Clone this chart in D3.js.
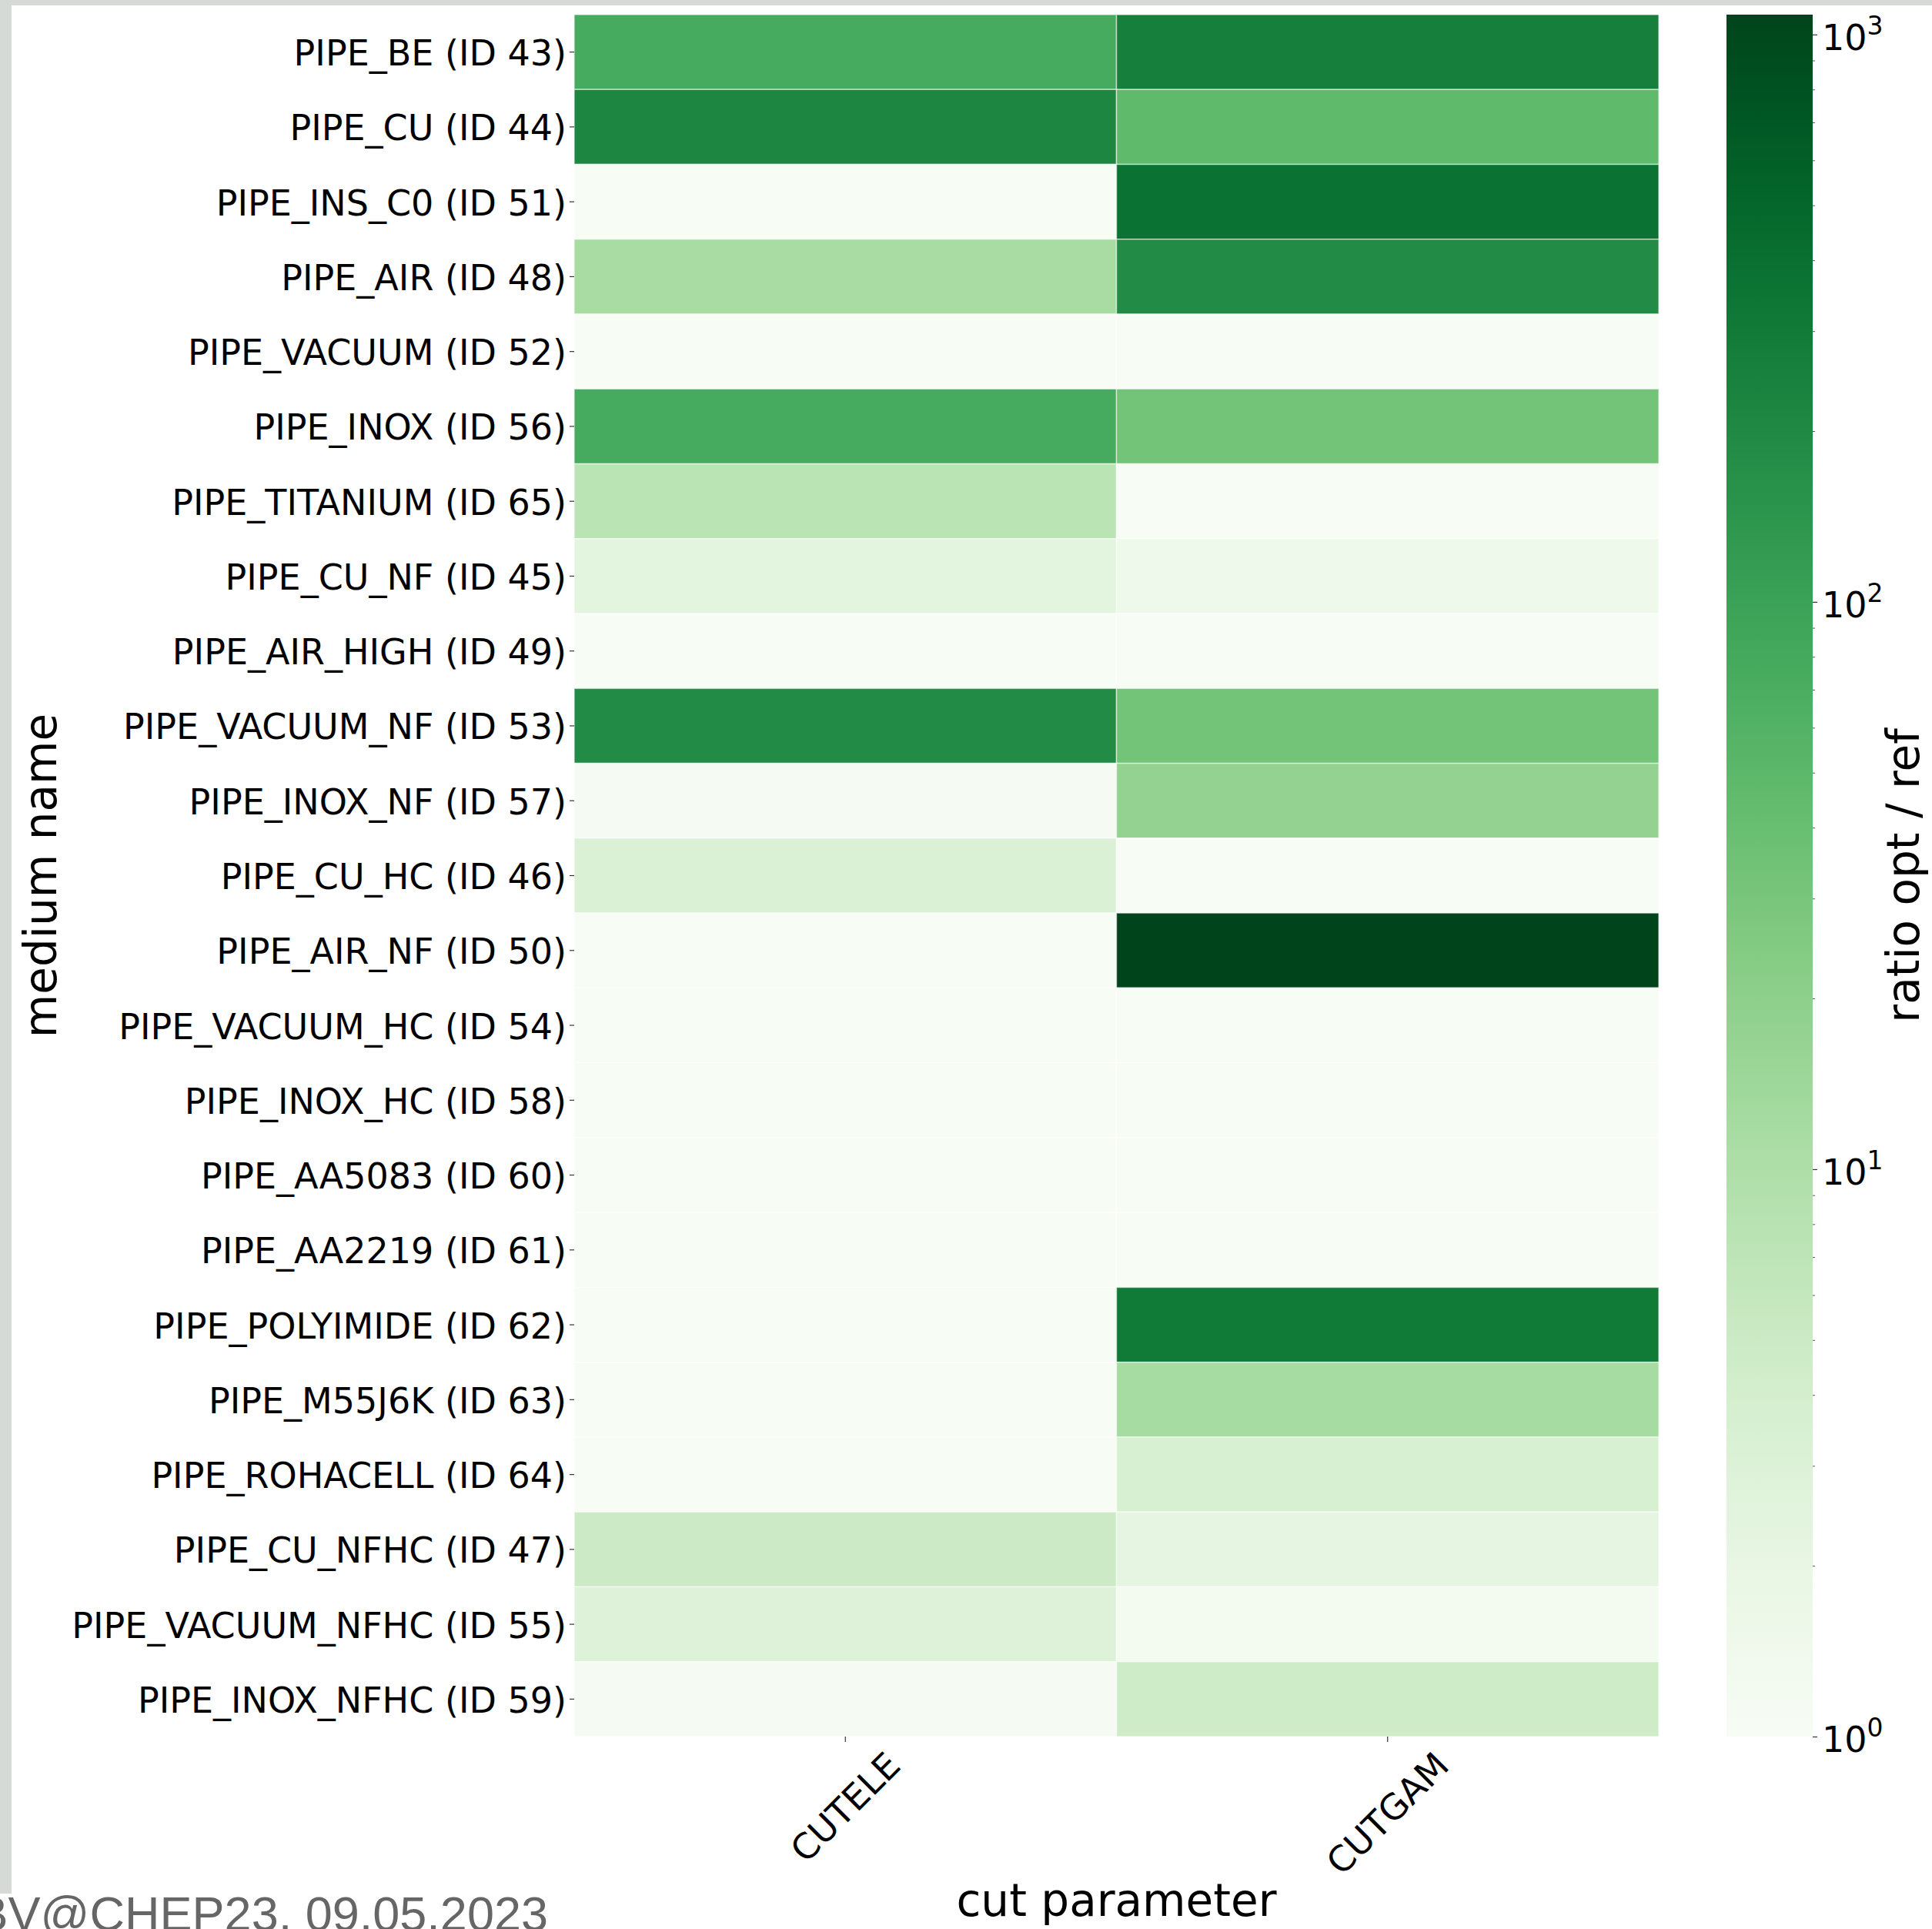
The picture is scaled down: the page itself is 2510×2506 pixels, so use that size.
<!DOCTYPE html>
<html>
<head>
<meta charset="utf-8">
<script src="https://cdn.jsdelivr.net/npm/d3@7"></script>
<style>
body { margin: 0; background: #fff; }
svg { display: block; }
</style>
</head>
<body>
<div id="chart"></div>
<script>
// media shown on the y axis, top to bottom
const media = [
  "PIPE_BE (ID 43)", "PIPE_CU (ID 44)", "PIPE_INS_C0 (ID 51)", "PIPE_AIR (ID 48)",
  "PIPE_VACUUM (ID 52)", "PIPE_INOX (ID 56)", "PIPE_TITANIUM (ID 65)", "PIPE_CU_NF (ID 45)",
  "PIPE_AIR_HIGH (ID 49)", "PIPE_VACUUM_NF (ID 53)", "PIPE_INOX_NF (ID 57)", "PIPE_CU_HC (ID 46)",
  "PIPE_AIR_NF (ID 50)", "PIPE_VACUUM_HC (ID 54)", "PIPE_INOX_HC (ID 58)", "PIPE_AA5083 (ID 60)",
  "PIPE_AA2219 (ID 61)", "PIPE_POLYIMIDE (ID 62)", "PIPE_M55J6K (ID 63)", "PIPE_ROHACELL (ID 64)",
  "PIPE_CU_NFHC (ID 47)", "PIPE_VACUUM_NFHC (ID 55)", "PIPE_INOX_NFHC (ID 59)"
];
const cuts = ["CUTELE", "CUTGAM"];

// ratio opt / ref
const cutele = [76, 218, 1, 11.5, 1, 76, 7.6, 2.3, 1, 190, 1.1, 3.1, 1, 1, 1, 1, 1, 1, 1, 1, 5, 2.9, 1.1];
const cutgam = [270, 47, 380, 190, 1, 33, 1, 1.5, 1, 33, 18, 1, 1084, 1, 1, 1, 1, 310, 12, 3.5, 2.2, 1.2, 4.6];

const cbMajor = [1, 10, 100, 1000];
const vmin = 1, vmax = 1084;

const width = 2510, height = 2506;
const mLeft = 746, mRight = 2155, mTop = 19, mBottom = 2256;
const cbLeft = 2243, cbRight = 2355;

let svg = d3.select("#chart").append("svg")
  .attr("width", width)
  .attr("height", height)
  .style("font-family", "'DejaVu Sans', sans-serif");

// slide background bits
svg.append("rect").attr("x", 0).attr("y", 0).attr("width", width).attr("height", 7).attr("fill", "#d5dad6");
svg.append("rect").attr("x", 0).attr("y", 0).attr("width", 15).attr("height", 2460).attr("fill", "#d5dad6");

let x = d3.scaleBand().domain(cuts).range([mLeft, mRight]);
let y = d3.scaleBand().domain(media).range([mTop, mBottom]);
let color = d3.scaleSequentialLog(d3.interpolateGreens).domain([vmin, vmax]);

let cells = [];
media.forEach((m, i) => {
  cells.push({ m: m, c: "CUTELE", v: cutele[i] });
  cells.push({ m: m, c: "CUTGAM", v: cutgam[i] });
});

svg.append("g").selectAll("rect")
  .data(cells)
  .enter().append("rect")
  .attr("x", d => x(d.c))
  .attr("y", d => y(d.m))
  .attr("width", x.bandwidth())
  .attr("height", y.bandwidth())
  .attr("fill", d => color(d.v))
  .attr("stroke", "rgba(255,255,255,0.55)")
  .attr("stroke-width", 1.5);

// y axis
let yAxis = svg.append("g")
  .attr("transform", `translate(${mLeft},0)`)
  .call(d3.axisLeft(y).tickSize(6).tickPadding(4));
yAxis.select(".domain").remove();
yAxis.selectAll(".tick line").attr("stroke", "#333").attr("stroke-width", 1.2);
yAxis.selectAll(".tick text").attr("font-size", 46).attr("fill", "#000").attr("dy", "0.38em")
  .attr("font-family", "'DejaVu Sans', sans-serif");

// x axis
let xAxis = svg.append("g")
  .attr("transform", `translate(0,${mBottom})`)
  .call(d3.axisBottom(x).tickSize(7).tickFormat(""));
xAxis.select(".domain").remove();
xAxis.selectAll(".tick line").attr("stroke", "#333").attr("stroke-width", 1.2);

cuts.forEach(c => {
  let cx = x(c) + x.bandwidth() / 2;
  let t = svg.append("text")
    .attr("font-size", 46)
    .attr("text-anchor", "middle")
    .attr("dominant-baseline", "central")
    .text(c);
  let w = t.node().getComputedTextLength();
  let h = 46 * 1.17;
  let half = (w + h) * Math.SQRT1_2 / 2;
  t.attr("transform", `translate(${cx},${mBottom + 10 + half}) rotate(-45)`);
});

// axis titles
svg.append("text")
  .attr("font-size", 58)
  .attr("text-anchor", "middle")
  .attr("transform", `translate(${mLeft + (mRight - mLeft) / 2},${2489})`)
  .text("cut parameter");

svg.append("text")
  .attr("font-size", 58)
  .attr("text-anchor", "middle")
  .attr("dominant-baseline", "central")
  .attr("transform", `translate(53,${(mTop + mBottom) / 2}) rotate(-90)`)
  .text("medium name");

// colour bar
let defs = svg.append("defs");
let grad = defs.append("linearGradient").attr("id", "cbgrad")
  .attr("x1", 0).attr("y1", 1).attr("x2", 0).attr("y2", 0);
d3.range(0, 1.0001, 0.05).forEach(s => {
  grad.append("stop").attr("offset", s).attr("stop-color", d3.interpolateGreens(s));
});
svg.append("rect")
  .attr("x", cbLeft).attr("y", mTop)
  .attr("width", cbRight - cbLeft).attr("height", mBottom - mTop)
  .attr("fill", "url(#cbgrad)");

let cb = d3.scaleLog().domain([vmin, vmax]).range([mBottom, mTop]);
let minor = [];
[1, 10, 100, 1000].forEach(p => {
  for (let k = 2; k <= 9; k++) if (p * k <= vmax) minor.push(p * k);
});
let cbAxis = svg.append("g")
  .attr("transform", `translate(${cbRight},0)`)
  .call(d3.axisRight(cb).tickValues(cbMajor).tickSize(6).tickFormat(""));
cbAxis.select(".domain").remove();
cbAxis.selectAll(".tick line").attr("stroke", "#333").attr("stroke-width", 1.2);
let cbMinor = svg.append("g")
  .attr("transform", `translate(${cbRight},0)`)
  .call(d3.axisRight(cb).tickValues(minor).tickSize(3).tickFormat(""));
cbMinor.select(".domain").remove();
cbMinor.selectAll(".tick line").attr("stroke", "#555").attr("stroke-width", 1);

cbMajor.forEach(v => {
  let t = svg.append("text")
    .attr("x", cbRight + 12)
    .attr("y", cb(v) + 20)
    .attr("font-size", 46);
  t.append("tspan").text("10");
  t.append("tspan").attr("font-size", 33).attr("dy", -20).text(Math.round(Math.log10(v)));
});

svg.append("text")
  .attr("font-size", 58)
  .attr("text-anchor", "middle")
  .attr("dominant-baseline", "central")
  .attr("transform", `translate(2473,${(mTop + mBottom) / 2}) rotate(-90)`)
  .text("ratio opt / ref");

// slide footer
svg.append("text")
  .attr("x", 712)
  .attr("y", 2508)
  .attr("text-anchor", "end")
  .attr("font-size", 63)
  .attr("fill", "#666")
  .attr("font-family", "'Liberation Sans', Arial, sans-serif")
  .text("BV@CHEP23, 09.05.2023");
</script>
</body>
</html>
